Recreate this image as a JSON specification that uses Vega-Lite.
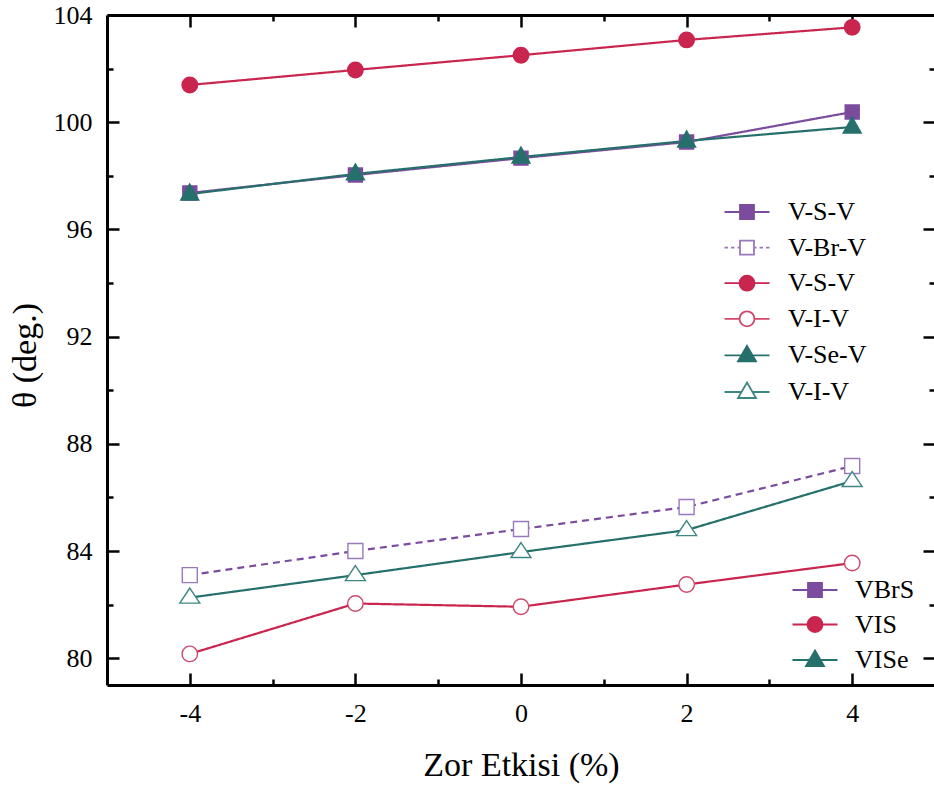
{
  "$schema": "https://vega.github.io/schema/vega-lite/v6.json",
  "width": 828,
  "height": 670,
  "autosize": {"type": "none"},
  "padding": {"left": 107, "top": 15, "right": 0, "bottom": 102},
  "background": "white",
  "config": {
    "view": {"stroke": null},
    "font": "Liberation Serif",
    "axis": {"grid": false, "domainColor": "black", "domainWidth": 3, "tickColor": "black", "tickWidth": 2.5, "labelColor": "black", "labelFont": "Liberation Serif", "labelFontSize": 26, "titleFont": "Liberation Serif", "titleFontSize": 34, "titleFontWeight": "normal", "titleColor": "black"},
    "legend": {"orient": "none", "padding": 0, "labelFont": "Liberation Serif", "labelFontSize": 26, "labelColor": "black", "symbolSize": 400, "symbolStrokeWidth": 1.8, "labelOffset": 28, "rowPadding": 9.6}
  },
  "datasets": {
    "pts": [
      {"x": -4, "y": 97.36, "s": "VBrS"}, {"x": -2, "y": 98.03, "s": "VBrS"}, {"x": 0, "y": 98.66, "s": "VBrS"}, {"x": 2, "y": 99.26, "s": "VBrS"}, {"x": 4, "y": 100.38, "s": "VBrS"},
      {"x": -4, "y": 83.1, "s": "VBrV"}, {"x": -2, "y": 84.0, "s": "VBrV"}, {"x": 0, "y": 84.82, "s": "VBrV"}, {"x": 2, "y": 85.64, "s": "VBrV"}, {"x": 4, "y": 87.17, "s": "VBrV"},
      {"x": -4, "y": 101.39, "s": "VIS"}, {"x": -2, "y": 101.95, "s": "VIS"}, {"x": 0, "y": 102.5, "s": "VIS"}, {"x": 2, "y": 103.07, "s": "VIS"}, {"x": 4, "y": 103.54, "s": "VIS"},
      {"x": -4, "y": 80.16, "s": "VIV"}, {"x": -2, "y": 82.04, "s": "VIV"}, {"x": 0, "y": 81.92, "s": "VIV"}, {"x": 2, "y": 82.75, "s": "VIV"}, {"x": 4, "y": 83.55, "s": "VIV"},
      {"x": -4, "y": 97.32, "s": "VISe"}, {"x": -2, "y": 98.07, "s": "VISe"}, {"x": 0, "y": 98.7, "s": "VISe"}, {"x": 2, "y": 99.3, "s": "VISe"}, {"x": 4, "y": 99.82, "s": "VISe"},
      {"x": -4, "y": 82.26, "s": "VIVt"}, {"x": -2, "y": 83.1, "s": "VIVt"}, {"x": 0, "y": 83.96, "s": "VIVt"}, {"x": 2, "y": 84.78, "s": "VIVt"}, {"x": 4, "y": 86.61, "s": "VIVt"}
    ]
  },
  "layer": [
    {
      "data": {"name": "pts"},
      "mark": {"type": "line", "strokeWidth": 2.2},
      "encoding": {
        "x": {"field": "x", "type": "quantitative", "scale": {"domain": [-5, 5], "nice": false, "zero": false},
          "axis": {"orient": "bottom", "values": [-4, -3, -2, -1, 0, 1, 2, 3, 4], "labelExpr": "datum.value % 2 == 0 ? '' + datum.value : ''", "tickSize": {"condition": {"test": "datum.value % 2 == 0", "value": -12}, "value": -6}, "labelPadding": 27, "title": "Zor Etkisi (%)", "titleX": 414, "titleY": 90, "titleBaseline": "alphabetic", "titleAlign": "center"}},
        "y": {"field": "y", "type": "quantitative", "scale": {"domain": [79, 104], "nice": false, "zero": false},
          "axis": {"orient": "left", "values": [80, 82, 84, 86, 88, 90, 92, 94, 96, 98, 100, 102, 104], "labelExpr": "datum.value % 4 == 0 ? '' + datum.value : ''", "tickSize": {"condition": {"test": "datum.value % 4 == 0", "value": -12}, "value": -6}, "labelPadding": 27, "title": "θ (deg.)", "titleX": -72, "titleY": 340, "titleBaseline": "alphabetic", "titleAlign": "center", "titleAngle": -90}},
        "color": {"field": "s", "type": "nominal", "scale": {"domain": ["VBrS", "VBrV", "VIS", "VIV", "VISe", "VIVt"], "range": ["#7B4C9E", "#7B4C9E", "#C9254E", "#C9254E", "#26706C", "#26706C"]}, "legend": null},
        "strokeDash": {"field": "s", "type": "nominal", "scale": {"domain": ["VBrS", "VBrV", "VIS", "VIV", "VISe", "VIVt"], "range": [[1, 0], [7, 5], [1, 0], [1, 0], [1, 0], [1, 0]]}, "legend": null}
      }
    },
    {
      "data": {"name": "pts"},
      "mark": {"type": "point", "filled": false, "opacity": 1, "strokeWidth": 1.4, "size": 100},
      "encoding": {
        "x": {"field": "x", "type": "quantitative",
          "axis": {"orient": "top", "values": [-4, -3, -2, -1, 0, 1, 2, 3, 4], "labels": false, "tickSize": {"condition": {"test": "datum.value % 2 == 0", "value": -12}, "value": -6}, "title": null}},
        "y": {"field": "y", "type": "quantitative",
          "axis": {"orient": "right", "values": [80, 82, 84, 86, 88, 90, 92, 94, 96, 98, 100, 102, 104], "labels": false, "tickSize": {"condition": {"test": "datum.value % 4 == 0", "value": -12}, "value": -6}, "title": null}},
        "color": {"field": "s", "type": "nominal", "scale": {"domain": ["VBrS", "VBrV", "VIS", "VIV", "VISe", "VIVt"], "range": ["#7B4C9E", "#9A78BC", "#C9254E", "#D0486A", "#26706C", "#3E8682"]}, "legend": null},
        "fill": {"field": "s", "type": "nominal", "scale": {"domain": ["VBrS", "VBrV", "VIS", "VIV", "VISe", "VIVt"], "range": ["#7B4C9E", "white", "#C9254E", "white", "#26706C", "white"]}, "legend": null},
        "shape": {"field": "s", "type": "nominal", "scale": {"domain": ["VBrS", "VBrV", "VIS", "VIV", "VISe", "VIVt"], "range": ["M-1.4,-1.4H1.4V1.4H-1.4Z", "M-1.5,-1.5H1.5V1.5H-1.5Z", "M-1.55,0A1.55,1.55,0,1,0,1.55,0A1.55,1.55,0,1,0,-1.55,0Z", "M-1.55,0A1.55,1.55,0,1,0,1.55,0A1.55,1.55,0,1,0,-1.55,0Z", "M0,-2L1.8,1.2L-1.8,1.2Z", "M0,-1.9L2,1.1L-2,1.1Z"]}, "legend": null}
      }
    },
    {
      "data": {"name": "pts"},
      "transform": [{"filter": "false"}],
      "mark": {"type": "point", "filled": false, "opacity": 1, "size": 400},
      "encoding": {
        "color": {"field": "s", "type": "nominal", "scale": {"domain": ["VBrS", "VBrV", "VIS", "VIV", "VISe", "VIVt"], "range": ["#7B4C9E", "#9A78BC", "#C9254E", "#D0486A", "#26706C", "#3E8682"]},
          "legend": {"title": null, "legendX": 627, "legendY": 184, "labelExpr": "datum.value == 'VBrS' ? 'V-S-V' : datum.value == 'VBrV' ? 'V-Br-V' : datum.value == 'VIS' ? 'V-S-V' : datum.value == 'VIV' ? 'V-I-V' : datum.value == 'VISe' ? 'V-Se-V' : 'V-I-V'"}},
        "fill": {"field": "s", "type": "nominal", "scale": {"domain": ["VBrS", "VBrV", "VIS", "VIV", "VISe", "VIVt"], "range": ["#7B4C9E", "white", "#C9254E", "white", "#26706C", "white"]},
          "legend": {"title": null, "legendX": 627, "legendY": 184, "labelExpr": "datum.value == 'VBrS' ? 'V-S-V' : datum.value == 'VBrV' ? 'V-Br-V' : datum.value == 'VIS' ? 'V-S-V' : datum.value == 'VIV' ? 'V-I-V' : datum.value == 'VISe' ? 'V-Se-V' : 'V-I-V'"}},
        "shape": {"field": "s", "type": "nominal", "scale": {"domain": ["VBrS", "VBrV", "VIS", "VIV", "VISe", "VIVt"], "range": [
          "M-2.25,0H-0.7M0.7,0H2.25M-0.7,-0.7H0.7V0.7H-0.7Z",
          "M-2.25,0H-1.9M-1.6,0H-1.25M-0.95,0H-0.7M0.7,0H0.95M1.25,0H1.6M1.9,0H2.25M-0.7,-0.7H0.7V0.7H-0.7Z",
          "M-2.25,0H-0.75M0.75,0H2.25M-0.75,0A0.75,0.75,0,1,0,0.75,0A0.75,0.75,0,1,0,-0.75,0Z",
          "M-2.25,0H-0.75M0.75,0H2.25M-0.75,0A0.75,0.75,0,1,0,0.75,0A0.75,0.75,0,1,0,-0.75,0Z",
          "M-2.25,0H-0.55M0.55,0H2.25M0,-0.95L0.9,0.6L-0.9,0.6Z",
          "M-2.25,0H-0.55M0.55,0H2.25M0,-0.95L0.9,0.6L-0.9,0.6Z"]},
          "legend": {"title": null, "legendX": 627, "legendY": 184, "labelExpr": "datum.value == 'VBrS' ? 'V-S-V' : datum.value == 'VBrV' ? 'V-Br-V' : datum.value == 'VIS' ? 'V-S-V' : datum.value == 'VIV' ? 'V-I-V' : datum.value == 'VISe' ? 'V-Se-V' : 'V-I-V'"}}
      }
    },
    {
      "data": {"name": "pts"},
      "transform": [{"filter": "false"}],
      "mark": {"type": "point", "filled": false, "opacity": 1, "size": 400},
      "encoding": {
        "color": {"field": "s", "type": "nominal", "scale": {"domain": ["VBrS", "VIS", "VISe"], "range": ["#7B4C9E", "#C9254E", "#26706C"]},
          "legend": {"title": null, "legendX": 695, "legendY": 562, "rowPadding": 8.5, "labelOffset": 27}},
        "fill": {"field": "s", "type": "nominal", "scale": {"domain": ["VBrS", "VIS", "VISe"], "range": ["#7B4C9E", "#C9254E", "#26706C"]},
          "legend": {"title": null, "legendX": 695, "legendY": 562, "rowPadding": 8.5, "labelOffset": 27}},
        "shape": {"field": "s", "type": "nominal", "scale": {"domain": ["VBrS", "VIS", "VISe"], "range": [
          "M-2.25,0H-0.7M0.7,0H2.25M-0.7,-0.7H0.7V0.7H-0.7Z",
          "M-2.25,0H-0.75M0.75,0H2.25M-0.75,0A0.75,0.75,0,1,0,0.75,0A0.75,0.75,0,1,0,-0.75,0Z",
          "M-2.25,0H-0.55M0.55,0H2.25M0,-0.95L0.9,0.6L-0.9,0.6Z"]},
          "legend": {"title": null, "legendX": 695, "legendY": 562, "rowPadding": 8.5, "labelOffset": 27}}
      }
    }
  ],
  "resolve": {
    "scale": {"color": "independent", "fill": "independent", "shape": "independent", "strokeDash": "independent"},
    "axis": {"x": "independent", "y": "independent"}
  }
}
